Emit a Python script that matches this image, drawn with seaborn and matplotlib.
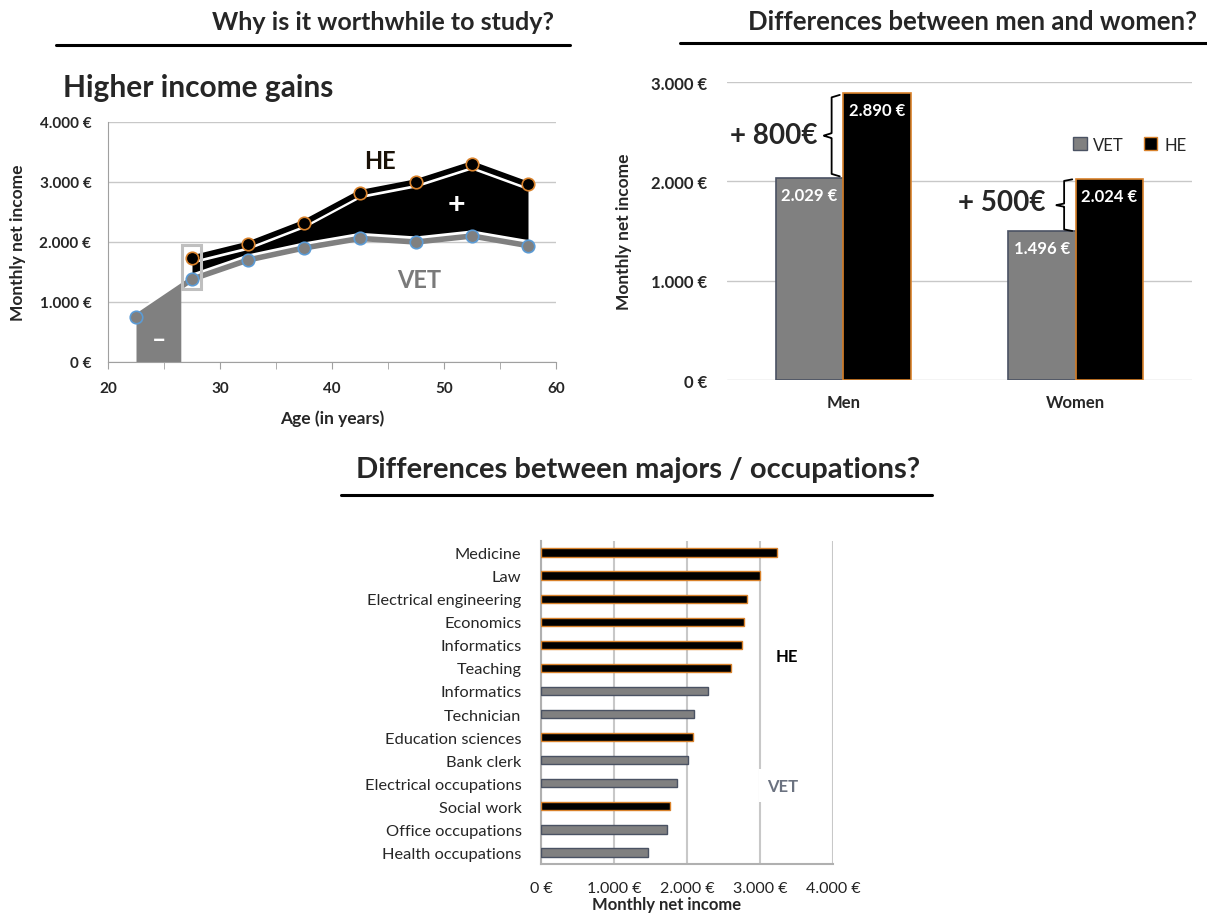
import numpy as np
import pandas as pd
import matplotlib.pyplot as plt
import matplotlib.patches as mpatches
from matplotlib.lines import Line2D
import seaborn as sns

# --- data ---
ages = [22.5, 27.5, 32.5, 37.5, 42.5, 47.5, 52.5, 57.5]
vet_income = [750, 1380, 1700, 1900, 2060, 2000, 2100, 1940]
he_ages = [27.5, 32.5, 37.5, 42.5, 47.5, 52.5, 57.5]
he_income = [1730, 1960, 2320, 2820, 3000, 3300, 2960]

genders = ['Men', 'Women']
gender_vet = [2029, 1496]
gender_he = [2890, 2024]

majors = ['Medicine', 'Law', 'Electrical engineering', 'Economics', 'Informatics',
          'Teaching', 'Informatics', 'Technician', 'Education sciences', 'Bank clerk',
          'Electrical occupations', 'Social work', 'Office occupations', 'Health occupations']
major_income = [3230, 3000, 2820, 2780, 2760, 2600, 2290, 2100, 2080, 2010, 1860, 1770, 1720, 1470]
major_type = ['HE', 'HE', 'HE', 'HE', 'HE', 'HE', 'VET', 'VET', 'HE', 'VET', 'VET', 'HE', 'VET', 'VET']

GRAY = '#808080'
ORANGE = '#d9822b'
BLUE = '#5b9bd5'
SLATE = '#4a5263'
GRID = '#c8c8c8'

sns.set_style('white')
plt.rcParams['font.family'] = ['Lato', 'DejaVu Sans']

def euro(v):
    return f'{int(v):,} €'.replace(',', '.')

fig = plt.figure(figsize=(12.07, 9.2), dpi=100)

# section headers
fig.text(554/1207, 1 - 22/920, 'Why is it worthwhile to study?', ha='right', va='center',
         fontsize=18, fontweight='bold')
fig.add_artist(Line2D([56/1207, 570/1207], [1 - 46/920] * 2, color='black', lw=2.2))
fig.text(1197/1207, 1 - 22/920, 'Differences between men and women?', ha='right', va='center',
         fontsize=18.5, fontweight='bold')
fig.add_artist(Line2D([680/1207, 1207/1207], [1 - 44/920] * 2, color='black', lw=2.2))
fig.text(638/1207, 1 - 470/920, 'Differences between majors / occupations?', ha='center', va='center',
         fontsize=21, fontweight='bold')
fig.add_artist(Line2D([341/1207, 932/1207], [1 - 496/920] * 2, color='black', lw=2.2))

# --- top left: income by age ---
ax1 = fig.add_axes([108/1207, 1 - 363/920, 448/1207, 240/920])
vet = np.array(vet_income, dtype=float)
he = np.array(he_income, dtype=float)
he_x = np.array(he_ages)
vet_on_he = np.interp(he_x, ages, vet)
off = 70
ax1.fill_between(he_x, vet_on_he + off, he - off, color='black', lw=0, zorder=2)
left_x = np.linspace(ages[0], 26.5, 20)
ax1.fill_between(left_x, 0, np.interp(left_x, ages, vet) + off * 0.3, color=GRAY, lw=0, zorder=2)
ax1.plot(he_x, he - off, color='white', lw=2, zorder=3)
ax1.plot(ages, vet + off, color='white', lw=2, zorder=3)

line_df = pd.DataFrame({
    'age': list(ages) + list(he_ages),
    'income': list(vet_income) + list(he_income),
    'type': ['VET'] * len(ages) + ['HE'] * len(he_ages),
})
sns.lineplot(data=line_df[line_df['type'] == 'VET'], x='age', y='income', ax=ax1,
             color=GRAY, lw=4, marker='o', markersize=9, markerfacecolor=GRAY,
             markeredgecolor=BLUE, markeredgewidth=1.2, zorder=4)
sns.lineplot(data=line_df[line_df['type'] == 'HE'], x='age', y='income', ax=ax1,
             color='black', lw=4, marker='o', markersize=9, markerfacecolor='black',
             markeredgecolor=ORANGE, markeredgewidth=1.2, zorder=5)
ax1.add_patch(mpatches.Rectangle((26.6, 1210), 1.7, 740, fill=False, ec='#bfbfbf', lw=2.2, zorder=6))

ax1.set_xlim(20, 60)
ax1.set_ylim(0, 4000)
ax1.set_xticks(range(20, 61, 10))
ax1.set_xticks(range(25, 60, 10), minor=True)
ax1.set_yticks(range(0, 4001, 1000))
ax1.set_yticklabels([euro(v) for v in range(0, 4001, 1000)])
ax1.yaxis.grid(True, color=GRID, lw=1)
ax1.tick_params(axis='x', which='both', direction='out', length=5, color='#a0a0a0', bottom=True, pad=9)
ax1.tick_params(axis='y', length=0, pad=12)
for lab in ax1.get_xticklabels() + ax1.get_yticklabels():
    lab.set_fontweight('bold')
    lab.set_fontsize(11)
for s in ['top', 'right']:
    ax1.spines[s].set_visible(False)
for s in ['left', 'bottom']:
    ax1.spines[s].set_color('#a0a0a0')
ax1.set_xlabel('Age (in years)', fontsize=12.5, fontweight='bold', labelpad=10)
ax1.set_ylabel('Monthly net income', fontsize=12.5, fontweight='bold', labelpad=10)
ax1.text(44.3, 3350, 'HE', fontsize=17, fontweight='bold', color='#1a1208', ha='center', va='center')
ax1.text(47.8, 1380, 'VET', fontsize=17, fontweight='bold', color='#7a7a7a', ha='center', va='center')
ax1.text(51.1, 2640, '+', fontsize=22, fontweight='bold', color='white', ha='center', va='center', zorder=6)
ax1.text(24.6, 390, '–', fontsize=18, fontweight='bold', color='white', ha='center', va='center', zorder=6)
fig.text(63/1207, 1 - 88/920, 'Higher income gains', ha='left', va='center',
         fontsize=21.5, fontweight='bold')

# --- top right: men vs women ---
ax2 = fig.add_axes([727/1207, 1 - 381/920, 465/1207, 298/920])
g_df = pd.DataFrame({
    'gender': genders * 2,
    'income': gender_vet + gender_he,
    'type': ['VET'] * 2 + ['HE'] * 2,
})
sns.barplot(data=g_df, x='gender', y='income', hue='type', hue_order=['VET', 'HE'],
            palette={'VET': GRAY, 'HE': 'black'}, width=0.58, ax=ax2, legend=False, zorder=3)
for cont, ec in zip(ax2.containers, [SLATE, ORANGE]):
    for bar in cont:
        bar.set_edgecolor(ec)
        bar.set_linewidth(1.2)
        cx = bar.get_x() + bar.get_width() / 2
        ax2.text(cx, bar.get_height() - 170, euro(bar.get_height()), ha='center', va='center',
                 color='white', fontsize=12, fontweight='bold', zorder=5)
ax2.set_ylim(0, 3000)
ax2.set_xlim(-0.5, 1.5)
ax2.set_yticks(range(0, 3001, 1000))
ax2.set_yticklabels([euro(v) for v in range(0, 3001, 1000)])
ax2.yaxis.grid(True, color=GRID, lw=1, zorder=0)
ax2.tick_params(length=0)
ax2.tick_params(axis='y', pad=14)
ax2.tick_params(axis='x', pad=10)
for lab in ax2.get_xticklabels() + ax2.get_yticklabels():
    lab.set_fontweight('bold')
    lab.set_fontsize(12)
sns.despine(ax=ax2, left=True, bottom=True)
ax2.set_xlabel('')
ax2.set_ylabel('Monthly net income', fontsize=12.5, fontweight='bold', labelpad=14)


def brace(ax, x, y0, y1, w):
    # curly brace opening to the right, tip pointing left at the middle
    ys = np.linspace(y0, y1, 300)
    ym = (y0 + y1) / 2
    d = np.abs(ys - ym) / ((y1 - y0) / 2)
    tip = np.clip(1 - d / 0.06, 0, 1)
    end = np.clip(1 - (1 - d) / 0.06, 0, 1)
    xs = x - w * 0.5 - w * 0.5 * tip + w * 0.5 * end
    ax.plot(xs, ys, color='black', lw=1.3, zorder=6, solid_capstyle='round')


brace(ax2, -0.015, 2050, 2870, 0.07)
brace(ax2, 0.985, 1500, 2020, 0.07)
ax2.text(-0.11, 2462, '+ 800€', ha='right', va='center', fontsize=20, fontweight='bold')
ax2.text(0.87, 1789, '+ 500€', ha='right', va='center', fontsize=20, fontweight='bold')
handles = [mpatches.Patch(facecolor=GRAY, edgecolor=SLATE, label='VET'),
           mpatches.Patch(facecolor='black', edgecolor=ORANGE, label='HE')]
ax2.legend(handles=handles, loc='center right', bbox_to_anchor=(1.02, 0.79), ncol=2, frameon=False,
           fontsize=12, handlelength=0.8, handleheight=0.8, columnspacing=1.2, handletextpad=0.4)

# --- bottom: majors ---
ax3 = fig.add_axes([541/1207, 1 - 865/920, 292/1207, 323/920])
m_df = pd.DataFrame({
    'rank': [str(i) for i in range(len(majors))],
    'income': major_income,
    'type': major_type,
})
sns.barplot(data=m_df, x='income', y='rank', hue='type', hue_order=['HE', 'VET'], dodge=False,
            palette={'HE': 'black', 'VET': GRAY}, width=0.36, orient='h', ax=ax3, legend=False, zorder=3)
for cont, ec in zip(ax3.containers, [ORANGE, SLATE]):
    for bar in cont:
        bar.set_edgecolor(ec)
        bar.set_linewidth(1.0)
ax3.set_yticks(range(len(majors)))
ax3.set_yticklabels(majors, fontsize=11.8)
ax3.set_ylim(len(majors) - 0.5, -0.5)
ax3.set_xlim(0, 4000)
ax3.set_xticks(range(0, 4001, 1000))
ax3.set_xticklabels([euro(v) for v in range(0, 4001, 1000)], fontsize=11.5, color='#222222')
ax3.xaxis.grid(True, color=GRID, lw=1.5, zorder=0)
ax3.tick_params(length=0)
ax3.tick_params(axis='x', pad=12)
ax3.tick_params(axis='y', pad=14)
for s in ['top', 'right']:
    ax3.spines[s].set_visible(False)
for s in ['left', 'bottom']:
    ax3.spines[s].set_color('#b0b0b0')
    ax3.spines[s].set_linewidth(1.5)
ax3.set_ylabel('')
ax3.set_xlabel('Monthly net income', fontsize=12, fontweight='bold', labelpad=4)
ax3.xaxis.set_label_coords(0.43, -0.1)
ax3.text(3370, 4.5, 'HE', fontsize=12, fontweight='bold', color='black', ha='center', va='center')
ax3.text(3310, 10.1, 'VET', fontsize=12, fontweight='bold', color='#6b7280', ha='center', va='center',
         bbox=dict(facecolor='white', edgecolor='none', pad=6), zorder=4)

fig.savefig('out.png', dpi=100)
